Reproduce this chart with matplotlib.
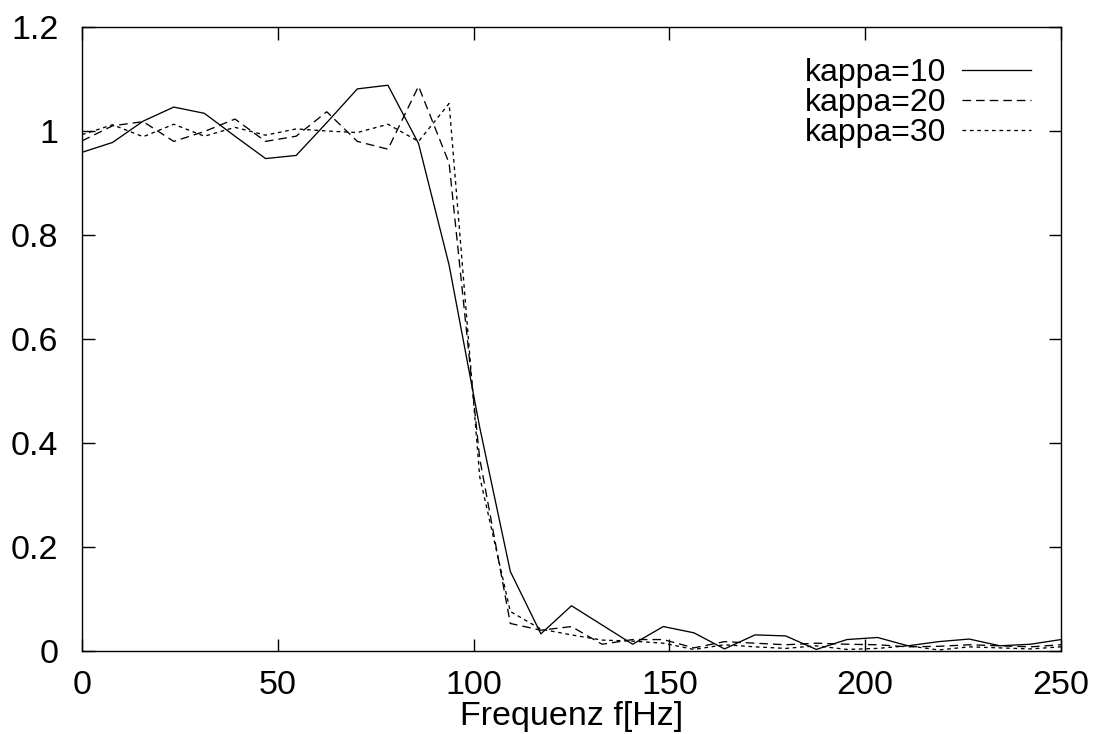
import numpy as np
import matplotlib.pyplot as plt
from matplotlib.ticker import FixedLocator, FixedFormatter

# frequency bins (Hz)
freq = [0, 7.8125, 15.625, 23.4375, 31.25, 39.0625, 46.875, 54.6875, 62.5, 70.3125,
        78.125, 85.9375, 93.75, 101.5625, 109.375, 117.1875, 125, 132.8125, 140.625,
        148.4375, 156.25, 164.0625, 171.875, 179.6875, 187.5, 195.3125, 203.125,
        210.9375, 218.75, 226.5625, 234.375, 242.1875, 250]

kappa10 = [0.959, 0.978, 1.019, 1.046, 1.034, 0.990, 0.947, 0.953, 1.016, 1.081,
           1.088, 0.976, 0.742, 0.430, 0.153, 0.033, 0.087, 0.050, 0.013, 0.047,
           0.035, 0.004, 0.031, 0.029, 0.003, 0.022, 0.026, 0.010, 0.018, 0.023,
           0.010, 0.013, 0.022]
kappa20 = [0.981, 1.010, 1.018, 0.980, 0.999, 1.023, 0.980, 0.990, 1.037, 0.980,
           0.965, 1.086, 0.938, 0.370, 0.053, 0.040, 0.047, 0.013, 0.022, 0.022,
           0.006, 0.018, 0.015, 0.012, 0.015, 0.013, 0.012, 0.008, 0.009, 0.012,
           0.010, 0.008, 0.012]
kappa30 = [0.993, 1.012, 0.989, 1.013, 0.990, 1.007, 0.992, 1.004, 1.000, 0.997,
           1.013, 0.980, 1.053, 0.335, 0.076, 0.042, 0.031, 0.021, 0.019, 0.015,
           0.003, 0.012, 0.008, 0.005, 0.010, 0.003, 0.005, 0.010, 0.002, 0.008,
           0.006, 0.004, 0.008]

xticks = [0, 50, 100, 150, 200, 250]
yticks = [0, 0.2, 0.4, 0.6, 0.8, 1.0, 1.2]
ytick_labels = ['0', '0.2', '0.4', '0.6', '0.8', '1', '1.2']

plt.rcParams['font.family'] = ['Liberation Sans', 'DejaVu Sans']
fs = 24.5

fig = plt.figure(figsize=(11.03, 7.34), dpi=100)
ax = fig.add_axes([82/1103, 83/734, 979/1103, 624/734])

lw = 0.95
ax.plot(freq, kappa10, color='black', lw=lw, label='kappa=10')
ax.plot(freq, kappa20, color='black', lw=lw, linestyle=(0, (6.5, 3.8)), label='kappa=20')
ax.plot(freq, kappa30, color='black', lw=lw, linestyle=(0, (2.8, 2.8)), label='kappa=30')

ax.set_xlim(0, 250)
ax.set_ylim(0, 1.2)
ax.xaxis.set_major_locator(FixedLocator(xticks))
ax.yaxis.set_major_locator(FixedLocator(yticks))
ax.yaxis.set_major_formatter(FixedFormatter(ytick_labels))
ax.tick_params(direction='in', length=9, width=1, top=True, right=True,
               labelsize=fs)
ax.tick_params(axis='y', pad=17)
ax.tick_params(axis='x', pad=14)
for s in ax.spines.values():
    s.set_linewidth(1)
ax.set_xlabel('Frequenz f[Hz]', fontsize=fs, labelpad=0)

ax.legend(loc='upper right', bbox_to_anchor=(0.982, 0.970), frameon=False,
          markerfirst=False, fontsize=23, handlelength=2.15, labelspacing=0.0,
          handletextpad=0.5, borderaxespad=0)

fig.savefig('out.png', dpi=100)
